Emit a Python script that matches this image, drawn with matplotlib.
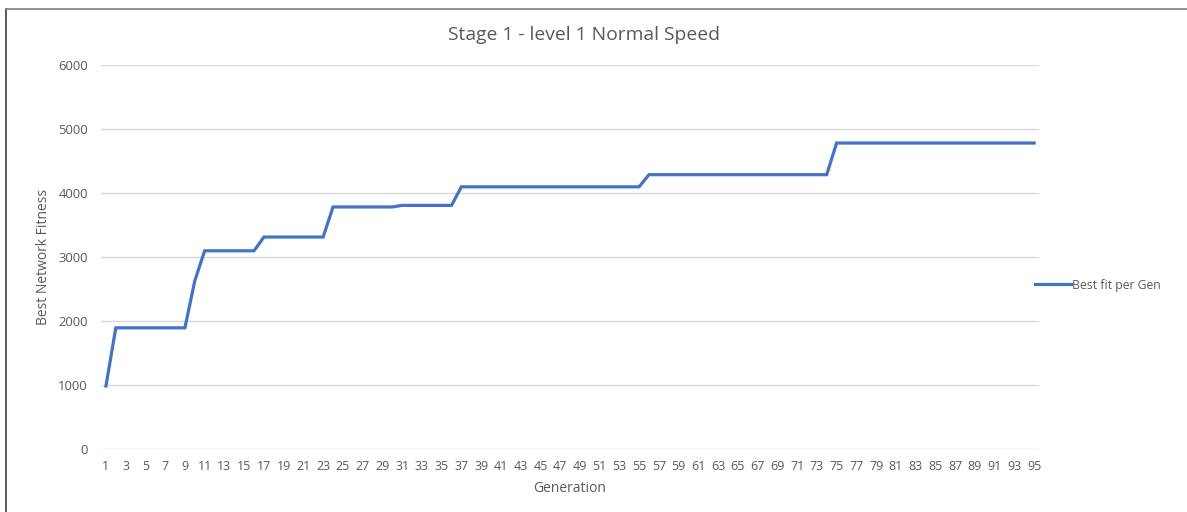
import matplotlib.pyplot as plt
from matplotlib.lines import Line2D

# Best fitness per generation
generations = list(range(1, 96))
best_fit = [
    980, 1890, 1890, 1890, 1890, 1890, 1890, 1890, 1890, 2625,
    3095, 3095, 3095, 3095, 3095, 3095, 3310, 3310, 3310, 3310,
    3310, 3310, 3310, 3780, 3780, 3780, 3780, 3780, 3780, 3780,
    3805, 3805, 3805, 3805, 3805, 3805, 4095, 4095, 4095, 4095,
    4095, 4095, 4095, 4095, 4095, 4095, 4095, 4095, 4095, 4095,
    4095, 4095, 4095, 4095, 4095, 4285, 4285, 4285, 4285, 4285,
    4285, 4285, 4285, 4285, 4285, 4285, 4285, 4285, 4285, 4285,
    4285, 4285, 4285, 4285, 4780, 4780, 4780, 4780, 4780, 4780,
    4780, 4780, 4780, 4780, 4780, 4780, 4780, 4780, 4780, 4780,
    4780, 4780, 4780, 4780, 4780,
]
y_ticks = [0, 1000, 2000, 3000, 4000, 5000, 6000]

grey = '#595959'
blue = '#4472C4'
plt.rcParams['font.family'] = ['Open Sans', 'DejaVu Sans']

fig = plt.figure(figsize=(11.87, 5.12), dpi=100)
ax = fig.add_axes([101 / 1187, 1 - 448.7 / 512, 938 / 1187, 383.7 / 512])

ax.plot(generations, best_fit, color=blue, linewidth=2.3, solid_joinstyle='miter',
        label='Best fit per Gen')

ax.set_xlim(0.5, 95.5)
ax.set_ylim(0, 6000)
ax.set_yticks(y_ticks)
ax.set_xticks(generations[::2])
ax.tick_params(axis='both', length=0, labelsize=9, colors=grey)
ax.tick_params(axis='y', labelsize=9.4, pad=9.4)
ax.tick_params(axis='x', pad=8)
ax.grid(axis='y', color='#D9D9D9', linewidth=1)
ax.set_axisbelow(True)
for s in ax.spines.values():
    s.set_visible(False)

ax.set_xlabel('Generation', fontsize=10, color=grey, labelpad=6)
ax.set_ylabel('Best Network Fitness', fontsize=10, color=grey, labelpad=5)
fig.text(584 / 1187, 1 - 35 / 512, 'Stage 1 - level 1 Normal Speed', ha='center', va='center',
         fontsize=13.9, color=grey)

ax.legend(loc='center left', bbox_to_anchor=(1029 / 1187, 1 - 285 / 512),
          bbox_transform=fig.transFigure, frameon=False, fontsize=8.8,
          labelcolor=grey, handlelength=2.9, handletextpad=0.1, borderpad=0)

# screenshot border on the top and left edges
fig.add_artist(Line2D([6 / 1187, 6 / 1187], [0, 1 - 9 / 512], transform=fig.transFigure,
                      color='#404040', linewidth=1.2))
fig.add_artist(Line2D([6 / 1187, 1], [1 - 9 / 512, 1 - 9 / 512], transform=fig.transFigure,
                      color='#7f7f7f', linewidth=1.2))

fig.savefig('out.png', dpi=100)
